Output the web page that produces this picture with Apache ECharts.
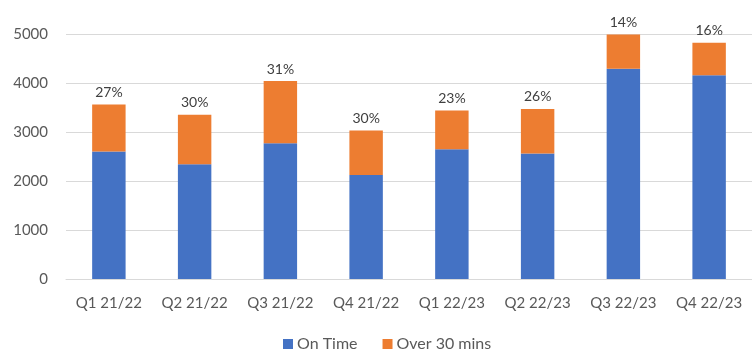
<!DOCTYPE html>
<html>
<head>
    <meta charset="utf-8">
    <title>On time</title>
    <style type="text/css">
        html, body { margin: 0; padding: 0; background: #fff; }
        #main { width: 752px; height: 351px; }
    </style>
    <script src="https://cdn.jsdelivr.net/npm/echarts@6/dist/echarts.min.js"></script>
</head>
<body>
<div id="main"></div>
<script type="text/javascript">
    var quarters = ['Q1 21/22', 'Q2 21/22', 'Q3 21/22', 'Q4 21/22', 'Q1 22/23', 'Q2 22/23', 'Q3 22/23', 'Q4 22/23'];
    var onTime = [2600, 2340, 2770, 2120, 2650, 2560, 4290, 4160];
    var over30 = [960, 1010, 1270, 910, 790, 910, 700, 660];
    var pctLabels = ['27%', '30%', '31%', '30%', '23%', '26%', '14%', '16%'];
    var yTicks = [0, 1000, 2000, 3000, 4000, 5000];

    var myChart = echarts.init(document.getElementById('main'));
    var font = 'Lato, "Open Sans", sans-serif';

    var option = {
        animation: false,
        textStyle: { fontFamily: font },
        grid: { left: 66, right: -6, top: 34, bottom: 72 },
        legend: {
            top: 331,
            left: 278,
            padding: 5,
            itemWidth: 10,
            itemHeight: 10,
            itemGap: 25,
            icon: 'rect',
            textStyle: { color: '#595959', fontSize: 16, fontFamily: font, padding: [0, 0, 0, -1] },
            data: ['On Time', 'Over 30 mins']
        },
        xAxis: {
            type: 'category',
            data: quarters,
            axisTick: { show: false },
            axisLine: { lineStyle: { color: '#d9d9d9', width: 1 } },
            axisLabel: { color: '#595959', fontSize: 15, margin: 17, interval: 0 }
        },
        yAxis: {
            type: 'value',
            min: yTicks[0],
            max: yTicks[yTicks.length - 1],
            interval: 1000,
            axisLine: { show: false },
            axisTick: { show: false },
            axisLabel: {
                color: '#595959', fontSize: 15, margin: 18,
                formatter: function (v) { return String(v); }
            },
            splitLine: { lineStyle: { color: '#d9d9d9', width: 1 } }
        },
        series: [
            {
                name: 'On Time',
                type: 'bar',
                stack: 'total',
                barWidth: '39%',
                itemStyle: { color: '#4472C4' },
                data: onTime
            },
            {
                name: 'Over 30 mins',
                type: 'bar',
                stack: 'total',
                barWidth: '39%',
                itemStyle: { color: '#ED7D31' },
                label: {
                    show: true,
                    position: 'top',
                    distance: 5,
                    color: '#404040',
                    fontSize: 14,
                    formatter: function (p) { return pctLabels[p.dataIndex]; }
                },
                data: over30
            }
        ]
    };

    myChart.setOption(option);
</script>
</body>
</html>
